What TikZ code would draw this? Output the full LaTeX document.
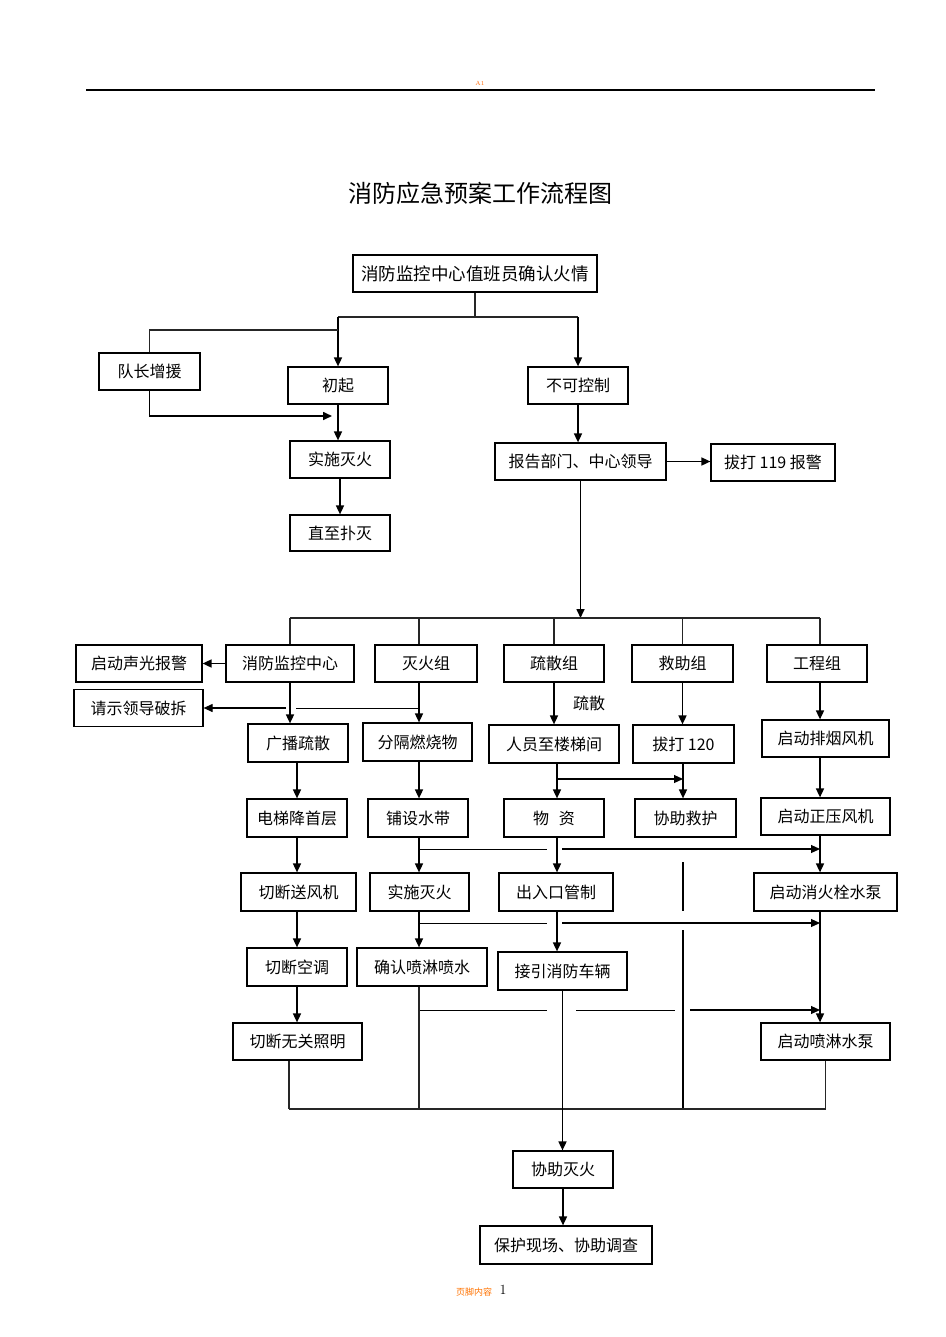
\documentclass[tikz,border=0pt]{standalone}
\usepackage{fontspec}
\newfontfamily\cjk{Noto Sans CJK SC}
\usetikzlibrary{arrows.meta}
\begin{document}
\begin{tikzpicture}[x=1pt,y=-1pt,
  box/.style={draw, line width=1.2pt, inner sep=0pt, font=\cjk\fontsize{16}{18}\selectfont},
  ln/.style={line width=1.2pt, draw=black!85},
  thin/.style={line width=0.9pt, draw=black},
  arr/.style={line width=1.6pt, draw=black, -{Triangle[length=9pt,width=8pt]}},
  tarr/.style={line width=1.1pt, draw=black, -{Triangle[length=9pt,width=8pt]}},
]
\useasboundingbox[fill=white] (0,0) rectangle (945,1337);

% header / footer
\node[font=\fontsize{6}{6}\selectfont, text=orange!80!red] (hdr) at (480,83) {A1};
\draw[line width=1.2pt] (86,90) -- (875,90);
\node[font=\cjk\fontsize{24}{26}\selectfont] (title) at (480,193) {消防应急预案工作流程图};
\node[font=\cjk\fontsize{9}{10}\selectfont, text=orange!90!red] (ftr) at (474,1292) {页脚内容};
\node[font=\fontsize{14}{14}\selectfont] (pg) at (503,1290) {1};

% columns and levels
\coordinate (cE) at (297,0);
\coordinate (cA) at (419,0);
\coordinate (cB) at (557,0);
\coordinate (cC) at (683,0);
\coordinate (cD) at (820,0);
\coordinate (h317) at (0,317);
\coordinate (h330) at (0,330);
\coordinate (h416) at (0,416);
\coordinate (h618) at (0,618);
\coordinate (h779) at (0,779);
\coordinate (h849) at (0,849);
\coordinate (h923) at (0,923);
\coordinate (h1010) at (0,1010);
\coordinate (h1109) at (0,1109);

% boxes
\node[box, minimum width=244pt, minimum height=37pt, font=\cjk\fontsize{17.5}{19}\selectfont] (top) at (475,273.5) {消防监控中心值班员确认火情};
\node[box, minimum width=101pt, minimum height=37pt] (dz) at (149.5,371.5) {队长增援};
\node[box, minimum width=100pt, minimum height=37pt] (cq) at (338,385.5) {初起};
\node[box, minimum width=100pt, minimum height=37pt] (bk) at (578,385.5) {不可控制};
\node[box, minimum width=100pt, minimum height=37pt] (ss1) at (340,459.5) {实施灭火};
\node[box, minimum width=100pt, minimum height=36pt] (zz) at (340,533) {直至扑灭};
\node[box, minimum width=171pt, minimum height=37pt] (bg) at (580.5,461.5) {报告部门、中心领导};
\node[box, minimum width=124pt, minimum height=37pt] (b119) at (773,462.5) {拔打 119 报警};

\node[box, minimum width=128pt, minimum height=37pt] (jk) at (290,663.5) {消防监控中心};
\node[box, minimum width=102pt, minimum height=37pt] (mh) at (426,663.5) {灭火组};
\node[box, minimum width=100pt, minimum height=37pt] (ssz) at (554,663.5) {疏散组};
\node[box, minimum width=101pt, minimum height=37pt] (jz) at (682.5,663.5) {救助组};
\node[box, minimum width=100pt, minimum height=37pt] (gc) at (817,663.5) {工程组};
\node[box, minimum width=126pt, minimum height=37pt] (sg) at (139,663.5) {启动声光报警};
\node[box, minimum width=129pt, minimum height=37pt] (qs) at (138.5,708) {请示领导破拆};

\node[box, minimum width=100pt, minimum height=38pt] (gb) at (298,743) {广播疏散};
\node[box, minimum width=109pt, minimum height=38pt] (fg) at (417.5,742) {分隔燃烧物};
\node[box, minimum width=130pt, minimum height=38pt] (ry) at (554,744) {人员至楼梯间};
\node[box, minimum width=101pt, minimum height=38pt] (b120) at (683.5,744) {拔打 120};
\node[box, minimum width=127pt, minimum height=37pt] (py) at (825.5,738.5) {启动排烟风机};
\node[font=\cjk\fontsize{16}{18}\selectfont] (lbl) at (589,703) {疏散};

\node[box, minimum width=100pt, minimum height=38pt] (dt) at (297,818) {电梯降首层};
\node[box, minimum width=100pt, minimum height=38pt] (ps) at (418,818) {铺设水带};
\node[box, minimum width=100pt, minimum height=38pt] (wz) at (554,818) {物\hspace{0.6em}资};
\node[box, minimum width=101pt, minimum height=38pt] (xj) at (685.5,818) {协助救护};
\node[box, minimum width=129pt, minimum height=37pt] (zy) at (825.5,816.5) {启动正压风机};

\node[box, minimum width=115pt, minimum height=38pt] (qf) at (298.5,892) {切断送风机};
\node[box, minimum width=99pt, minimum height=38pt] (ss2) at (419.5,892) {实施灭火};
\node[box, minimum width=114pt, minimum height=38pt] (cr) at (556,892) {出入口管制};
\node[box, minimum width=143pt, minimum height=38pt] (xh) at (825.5,892) {启动消火栓水泵};

\node[box, minimum width=100pt, minimum height=38pt] (kt) at (297,967) {切断空调};
\node[box, minimum width=130pt, minimum height=38pt] (qr) at (422,967) {确认喷淋喷水};
\node[box, minimum width=129pt, minimum height=38pt] (jy) at (562.5,971) {接引消防车辆};

\node[box, minimum width=129pt, minimum height=37pt] (zm) at (297.5,1041.5) {切断无关照明};
\node[box, minimum width=129pt, minimum height=37pt] (pl) at (825.5,1041.5) {启动喷淋水泵};

\node[box, minimum width=100pt, minimum height=37pt] (xm) at (563,1169.5) {协助灭火};
\node[box, minimum width=172pt, minimum height=38pt] (bh) at (566,1245) {保护现场、协助调查};

% top part
\draw[ln] (top.south) -- (top.south |- h317);
\draw[ln] (cq.north |- h317) -- (bk.north |- h317);
\draw[arr] (cq.north |- h317) -- (cq.north);
\draw[arr] (bk.north |- h317) -- (bk.north);
\draw[ln] (cq.north |- h330) -| (dz.north);
\draw[arr, shorten >=6pt] (dz.south) |- (cq.south |- h416);
\draw[arr] (cq.south) -- (cq.south |- ss1.north);
\draw[arr] (ss1.south) -- (zz.north);
\draw[arr] (bk.south) -- (bk.south |- bg.north);
\draw[arr] (bg.east) -- (bg.east -| b119.west);
\draw[arr] (bg.south) -- (bg.south |- h618);

% distribution line
\draw[ln] (jk.north |- h618) -- (cD |- h618);
\draw[ln] (jk.north |- h618) -- (jk.north);
\draw[ln] (cA |- h618) -- (cA |- mh.north);
\draw[ln] (ssz.north |- h618) -- (ssz.north);
\draw[ln] (jz.north |- h618) -- (jz.north);
\draw[ln] (cD |- h618) -- (cD |- gc.north);

% monitoring center
\draw[arr] (jk.west) -- (sg.east);
\draw[arr] (jk.south) -- (jk.south |- gb.north);
\draw[thin] (cA |- qs.east) -- ([xshift=6pt]jk.south |- qs.east);
\draw[tarr] ([xshift=-4pt]jk.south |- qs.east) -- (qs.east);
\draw[arr] (cA |- mh.south) -- (cA |- fg.north);
\draw[arr] (cE |- gb.south) -- (cE |- dt.north);
\draw[arr] (cE |- dt.south) -- (cE |- qf.north);
\draw[arr] (cE |- qf.south) -- (cE |- kt.north);
\draw[arr] (cE |- kt.south) -- (cE |- zm.north);

% fire group
\draw[arr] (cA |- fg.south) -- (cA |- ps.north);
\draw[arr] (cA |- ps.south) -- (cA |- ss2.north);
\draw[arr] (cA |- ss2.south) -- (cA |- qr.north);

% evacuation group
\draw[arr] (ssz.south) -- (ssz.south |- ry.north);
\draw[arr] (cB |- ry.south) -- (cB |- wz.north);
\draw[tarr] (cB |- h779) -- (cC |- h779);
\draw[arr] (cB |- wz.south) -- (cB |- cr.north);
\draw[arr] (cB |- cr.south) -- (cB |- jy.north);

% rescue group
\draw[arr] (jz.south) -- (jz.south |- b120.north);
\draw[arr] (cC |- b120.south) -- (cC |- xj.north);
\draw[line width=2pt] (683,862) -- (683,911);
\draw[line width=2pt] (683,930) -- (683,1110);

% engineering group
\draw[arr] (cD |- gc.south) -- (cD |- py.north);
\draw[arr] (cD |- py.south) -- (cD |- zy.north);
\draw[arr] (cD |- zy.south) -- (cD |- xh.north);
\draw[arr] (cD |- xh.south) -- (cD |- pl.north);

% cross lines
\draw[thin] (cA |- h849) -- (547,849);
\draw[tarr] (562,849) -- (cD |- h849);
\draw[thin] (cA |- h923) -- (547,923);
\draw[tarr] (562,923) -- (cD |- h923);
\draw[thin] (cA |- h1010) -- (547,1010);
\draw[thin] (576,1010) -- (675,1010);
\draw[tarr] (690,1010) -- (cD |- h1010);

% collector
\draw[ln] (cA |- qr.south) -- (cA |- h1109);
\draw[ln] ([xshift=-8.5pt]zm.south) -- ([xshift=-8.5pt]zm.south |- h1109);
\draw[ln] ([xshift=-8.5pt]zm.south |- h1109) -- (pl.south |- h1109);
\draw[ln] (pl.south) -- (pl.south |- h1109);

% final
\draw[arr] (jy.south) -- (jy.south |- xm.north);
\draw[arr] (xm.south) -- (xm.south |- bh.north);
\end{tikzpicture}
\end{document}
